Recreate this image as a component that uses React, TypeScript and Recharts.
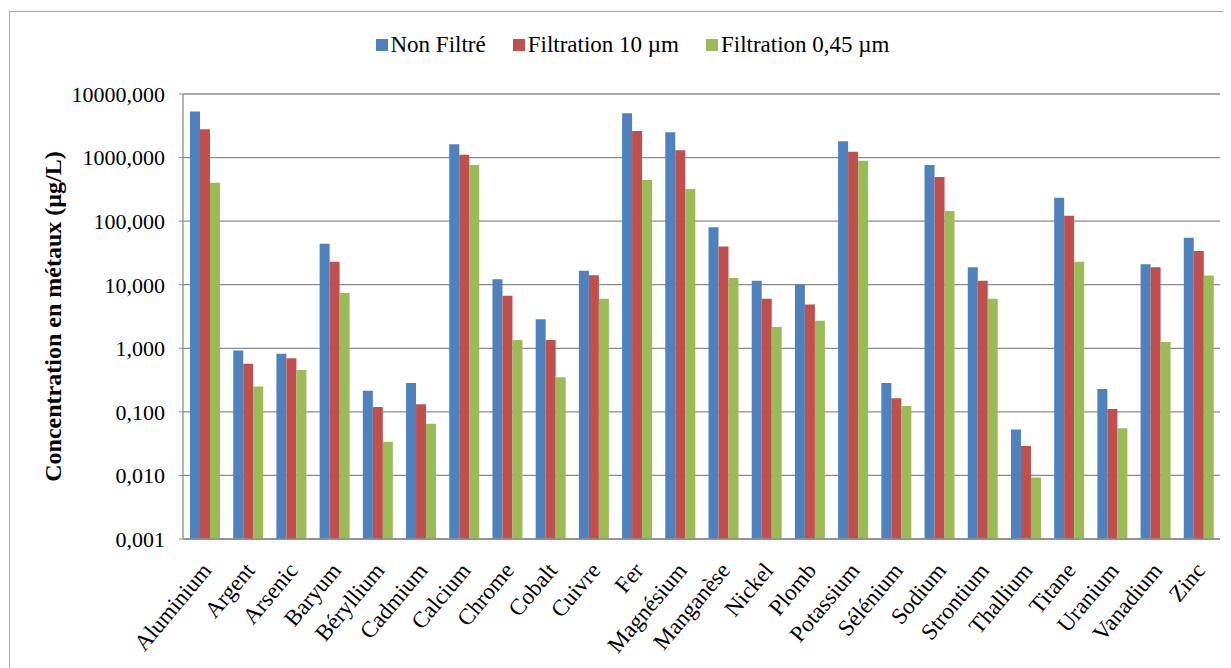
import React from "react";
import {
  BarChart,
  Bar,
  XAxis,
  YAxis,
  CartesianGrid,
  Label,
} from "recharts";

// Metals (x axis categories)
const metaux = [
  "Aluminium", "Argent", "Arsenic", "Baryum", "Béryllium", "Cadmium",
  "Calcium", "Chrome", "Cobalt", "Cuivre", "Fer", "Magnésium", "Manganèse",
  "Nickel", "Plomb", "Potassium", "Sélénium", "Sodium", "Strontium",
  "Thallium", "Titane", "Uranium", "Vanadium", "Zinc",
];

// Concentrations in µg/L (log scale)
const nonFiltre = [
  5300, 0.92, 0.82, 44, 0.215, 0.284, 1620, 12.2, 2.87, 16.6, 4970, 2500,
  80, 11.5, 10, 1800, 0.284, 765, 18.8, 0.053, 234, 0.228, 21, 55,
];
const filtration10 = [
  2780, 0.57, 0.7, 23, 0.119, 0.132, 1110, 6.7, 1.35, 14.1, 2620, 1300,
  40, 6.0, 4.9, 1240, 0.164, 495, 11.5, 0.029, 122, 0.111, 18.8, 34,
];
const filtration045 = [
  400, 0.25, 0.455, 7.4, 0.034, 0.065, 765, 1.35, 0.35, 6.0, 445, 320,
  12.8, 2.17, 2.7, 890, 0.124, 145, 6.0, 0.0093, 23, 0.055, 1.26, 14,
];

const yTicks = [0.001, 0.01, 0.1, 1, 10, 100, 1000, 10000];

const seriesNames = ["Non Filtré", "Filtration 10 µm", "Filtration 0,45 µm"];
const seriesColors = ["#4F81BD", "#C0504D", "#9BBB59"];

const data = metaux.map((name, i) => ({
  name,
  nonFiltre: nonFiltre[i],
  f10: filtration10[i],
  f045: filtration045[i],
}));

const FONT = "Liberation Serif, Times New Roman, serif";

const formatTick = (v: number) => v.toFixed(3).replace(".", ",");

const XTick = (props: any) => {
  const { x, y, payload } = props;
  return (
    <g transform={`translate(${x + 8},${y + 24})`}>
      <text
        x={0}
        y={0}
        textAnchor="end"
        transform="rotate(-50)"
        fontFamily={FONT}
        fontSize={23}
        fill="#000"
      >
        {payload.value}
      </text>
    </g>
  );
};

const App: React.FC = () => {
  return (
    <div style={{ position: "relative", width: 1223, height: 660 }}>
      <div
        style={{
          position: "absolute",
          left: 1,
          top: 3,
          width: 1218,
          height: 660,
          border: "1px solid #a6a6a6",
        }}
      />
      {/* legend */}
      <div
        style={{
          position: "absolute",
          left: 0,
          top: 24,
          width: 1223,
          display: "flex",
          justifyContent: "center",
          paddingLeft: 26,
          boxSizing: "border-box",
          fontFamily: FONT,
          fontSize: 23,
          color: "#000",
        }}
      >
        {seriesNames.map((n, i) => (
          <div
            key={n}
            style={{ display: "flex", alignItems: "center", marginRight: i < 2 ? 27 : 0 }}
          >
            <span
              style={{
                display: "inline-block",
                width: 12,
                height: 12,
                background: seriesColors[i],
                marginRight: 3,
              }}
            />
            <span>{n}</span>
          </div>
        ))}
      </div>
      <BarChart
        width={1223}
        height={660}
        data={data}
        margin={{ top: 86, right: 11, bottom: 9, left: 0 }}
        barGap={0}
        barSize={10}
        style={{ position: "absolute", left: 0, top: 0 }}
      >
        <CartesianGrid vertical={false} stroke="#8c8c8c" strokeWidth={1.3} />
        <XAxis
          dataKey="name"
          interval={0}
          tick={<XTick />}
          tickLine={false}
          axisLine={{ stroke: "#8c8c8c", strokeWidth: 1.3 }}
          height={120}
        />
        <YAxis
          scale="log"
          domain={[0.001, 10000]}
          ticks={yTicks}
          allowDataOverflow
          tickFormatter={formatTick}
          width={175}
          tickSize={4}
          tickMargin={14}
          axisLine={{ stroke: "#8c8c8c", strokeWidth: 1.3 }}
          tickLine={{ stroke: "#8c8c8c" }}
          tick={{ fill: "#000", fontFamily: FONT, fontSize: 22 }}
        >
          <Label
            content={({ viewBox }: any) => {
              const cx = 45;
              const cy = viewBox.y + viewBox.height / 2;
              return (
                <text
                  x={cx}
                  y={cy}
                  transform={`rotate(-90, ${cx}, ${cy})`}
                  textAnchor="middle"
                  dominantBaseline="central"
                  fontFamily={FONT}
                  fontWeight="bold"
                  fontSize={24}
                  fill="#000"
                >
                  Concentration en métaux (µg/L)
                </text>
              );
            }}
          />
        </YAxis>
        <Bar dataKey="nonFiltre" name={seriesNames[0]} fill={seriesColors[0]} isAnimationActive={false} />
        <Bar dataKey="f10" name={seriesNames[1]} fill={seriesColors[1]} isAnimationActive={false} />
        <Bar dataKey="f045" name={seriesNames[2]} fill={seriesColors[2]} isAnimationActive={false} />
      </BarChart>
    </div>
  );
};

export default App;
